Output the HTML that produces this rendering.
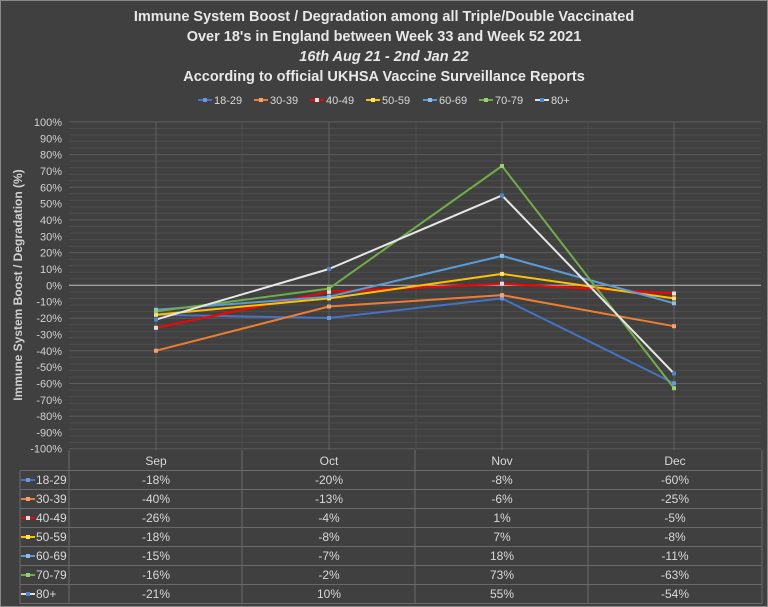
<!DOCTYPE html>
<html><head><meta charset="utf-8"><style>
html,body{margin:0;padding:0;background:#404040;}
svg{display:block;font-family:"Liberation Sans",Calibri,sans-serif;}
</style></head><body>
<svg width="768" height="607" viewBox="0 0 768 607" xmlns="http://www.w3.org/2000/svg">
<rect x="0" y="0" width="768" height="607" fill="#404040"/>
<rect x="0.5" y="0.5" width="767" height="606" fill="none" stroke="#8a8a8a"/>
<g fill="#e8e8e8" font-weight="bold" font-size="14.5" text-anchor="middle">
<text x="384" y="21">Immune System Boost / Degradation among all Triple/Double Vaccinated</text>
<text x="384" y="41">Over 18's in England between Week 33 and Week 52 2021</text>
<text x="384" y="61" font-style="italic">16th Aug 21 - 2nd Jan 22</text>
<text x="384" y="81">According to official UKHSA Vaccine Surveillance Reports</text>
</g>
<g font-size="11" fill="#d9d9d9">
<g transform="translate(198,100)"><line x1="0" y1="0" x2="14" y2="0" stroke="#4472c4" stroke-width="2"/><rect x="5" y="-2" width="4" height="4" fill="#6a95e0"/><text x="16" y="4">18-29</text></g>
<g transform="translate(254,100)"><line x1="0" y1="0" x2="14" y2="0" stroke="#ed7d31" stroke-width="2"/><rect x="5" y="-2" width="4" height="4" fill="#f4a070"/><text x="16" y="4">30-39</text></g>
<g transform="translate(310,100)"><line x1="0" y1="0" x2="14" y2="0" stroke="#ff0000" stroke-width="2"/><rect x="5" y="-2" width="4" height="4" fill="#e0e0e0"/><text x="16" y="4">40-49</text></g>
<g transform="translate(366,100)"><line x1="0" y1="0" x2="14" y2="0" stroke="#ffc000" stroke-width="2"/><rect x="5" y="-2" width="4" height="4" fill="#ffe070"/><text x="16" y="4">50-59</text></g>
<g transform="translate(423,100)"><line x1="0" y1="0" x2="14" y2="0" stroke="#5b9bd5" stroke-width="2"/><rect x="5" y="-2" width="4" height="4" fill="#8fbde8"/><text x="16" y="4">60-69</text></g>
<g transform="translate(479,100)"><line x1="0" y1="0" x2="14" y2="0" stroke="#70ad47" stroke-width="2"/><rect x="5" y="-2" width="4" height="4" fill="#98d070"/><text x="16" y="4">70-79</text></g>
<g transform="translate(535,100)"><line x1="0" y1="0" x2="14" y2="0" stroke="#e0e0e0" stroke-width="2"/><rect x="5" y="-2" width="4" height="4" fill="#4a86d0"/><text x="16" y="4">80+</text></g>
</g>
<g id="grid">
<g stroke="#4d4d4d" stroke-width="1">
<path d="M69 128.4H761M69 134.9H761M69 141.4H761M69 148H761M69 161.1H761M69 167.6H761M69 174.2H761M69 180.7H761M69 193.8H761M69 200.4H761M69 206.9H761M69 213.4H761M69 226.5H761M69 233.1H761M69 239.6H761M69 246.2H761M69 259.3H761M69 265.8H761M69 272.3H761M69 278.9H761M69 292H761M69 298.5H761M69 305.1H761M69 311.6H761M69 324.7H761M69 331.2H761M69 337.8H761M69 344.3H761M69 357.4H761M69 364H761M69 370.5H761M69 377H761M69 390.1H761M69 396.7H761M69 403.2H761M69 409.8H761M69 422.9H761M69 429.4H761M69 435.9H761M69 442.5H761"/>
</g>
<g stroke="#5c5c5c" stroke-width="1">
<path d="M69 121.9H761M69 154.6H761M69 187.3H761M69 219.9H761M69 252.6H761M69 318.1H761M69 350.8H761M69 383.5H761M69 416.1H761M69 448.7H761"/>
<path d="M156 121.9V450M329 121.9V450M502 121.9V450M674 121.9V450" stroke="#606060"/>
<path d="M242 121.9V450M416 121.9V450M588 121.9V450" stroke="#4d4d4d"/>
</g>
<line x1="69" y1="285.3" x2="761" y2="285.3" stroke="#bdbdbd" stroke-width="1"/>
</g>
<g font-size="11" fill="#d0d0d0" text-anchor="end">
<text x="60" y="126">100%</text><text x="60" y="158.7">90%</text><text x="60" y="191.4">80%</text><text x="60" y="224">70%</text><text x="60" y="256.7">60%</text><text x="60" y="289.4">50%</text>
<text x="60" y="322" visibility="hidden">x</text>
</g>
<g font-size="11" fill="#d0d0d0" text-anchor="end">
<text x="60" y="289.4" fill="#404040" stroke="#404040" stroke-width="6">50%</text>
</g>
<rect x="25" y="115" width="42" height="340" fill="#404040"/>
<g font-size="11" fill="#d0d0d0" text-anchor="end">
<text x="62" y="126">100%</text><text x="62" y="158.7">90%</text><text x="62" y="191.4">80%</text><text x="62" y="224">70%</text><text x="62" y="256.7">60%</text><text x="62" y="289.4">50%</text>
<text x="62" y="289.4" visibility="hidden">0</text>
</g>
<rect x="25" y="115" width="42" height="340" fill="#404040"/>
<g font-size="11" fill="#d0d0d0" text-anchor="end">
<text x="62" y="126">100%</text><text x="62" y="158.7">90%</text><text x="62" y="191.4">80%</text><text x="62" y="224">70%</text><text x="62" y="256.7">60%</text><text x="62" y="289.4">0%</text>
<text x="62" y="322">-20%</text><text x="62" y="354.8">-40%</text><text x="62" y="387.5">-60%</text><text x="62" y="420.1">-80%</text><text x="62" y="452.7">-100%</text>
</g>
<rect x="25" y="115" width="42" height="340" fill="#404040"/>
<g font-size="11" fill="#d0d0d0" text-anchor="end">
<text x="62" y="126">100%</text><text x="62" y="142.4">90%</text><text x="62" y="158.7">80%</text><text x="62" y="175">70%</text><text x="62" y="191.4">60%</text><text x="62" y="207.7">50%</text><text x="62" y="224">40%</text><text x="62" y="240.4">30%</text><text x="62" y="256.7">20%</text><text x="62" y="273">10%</text><text x="62" y="289.4">0%</text><text x="62" y="305.7">-10%</text><text x="62" y="322">-20%</text><text x="62" y="338.4">-30%</text><text x="62" y="354.8">-40%</text><text x="62" y="371.1">-50%</text><text x="62" y="387.5">-60%</text><text x="62" y="403.8">-70%</text><text x="62" y="420.1">-80%</text><text x="62" y="436.4">-90%</text><text x="62" y="452.7">-100%</text>
</g>
<text transform="translate(22,285) rotate(-90)" font-size="12" font-weight="bold" fill="#d0d0d0" text-anchor="middle">Immune System Boost / Degradation (%)</text>
<g fill="none" stroke-width="2" stroke-linejoin="round">
<polyline stroke="#4472c4" points="156,314.7 329,318 502,298.4 674,383.3"/>
<polyline stroke="#ed7d31" points="156,350.7 329,306.5 502,295.1 674,326.2"/>
<polyline stroke="#ff0000" points="156,327.8 329,291.8 502,283.7 674,293.5"/>
<polyline stroke="#ffc000" points="156,314.7 329,298.4 502,273.9 674,298.4"/>
<polyline stroke="#5b9bd5" points="156,309.8 329,296.7 502,255.9 674,303.3"/>
<polyline stroke="#70ad47" points="156,311.4 329,288.6 502,166 674,388.2"/>
<polyline stroke="#e6e6e6" points="156,319.6 329,269 502,195.4 674,373.5"/>
</g>
<g>
<g fill="#6a95e0"><rect x="154" y="312.7" width="4" height="4"/><rect x="327" y="316" width="4" height="4"/><rect x="500" y="296.4" width="4" height="4"/><rect x="672" y="381.3" width="4" height="4"/></g>
<g fill="#f4a070"><rect x="154" y="348.7" width="4" height="4"/><rect x="327" y="304.5" width="4" height="4"/><rect x="500" y="293.1" width="4" height="4"/><rect x="672" y="324.2" width="4" height="4"/></g>
<g fill="#e0e0e0"><rect x="154" y="325.8" width="4" height="4"/><rect x="327" y="289.8" width="4" height="4"/><rect x="500" y="281.7" width="4" height="4"/><rect x="672" y="291.5" width="4" height="4"/></g>
<g fill="#ffe070"><rect x="154" y="312.7" width="4" height="4"/><rect x="327" y="296.4" width="4" height="4"/><rect x="500" y="271.9" width="4" height="4"/><rect x="672" y="296.4" width="4" height="4"/></g>
<g fill="#8fbde8"><rect x="154" y="307.8" width="4" height="4"/><rect x="327" y="294.7" width="4" height="4"/><rect x="500" y="253.9" width="4" height="4"/><rect x="672" y="301.3" width="4" height="4"/></g>
<g fill="#98d070"><rect x="154" y="309.4" width="4" height="4"/><rect x="327" y="286.6" width="4" height="4"/><rect x="500" y="164" width="4" height="4"/><rect x="672" y="386.2" width="4" height="4"/></g>
<g fill="#4a86d0"><rect x="154" y="317.6" width="4" height="4"/><rect x="327" y="267" width="4" height="4"/><rect x="500" y="193.4" width="4" height="4"/><rect x="672" y="371.5" width="4" height="4"/></g>
</g>
<g stroke="#6a6a6a" stroke-width="1" fill="none">
<path d="M69 450V604M242 450V604M415 450V604M588 450V604M762 450V604"/>
<path d="M20 470.5H762M20 489.5H762M20 508.5H762M20 527.5H762M20 546.5H762M20 565.5H762M20 584.5H762M20 603.5H762M20 470.5V604"/>
</g>
<g font-size="12" fill="#d9d9d9" text-anchor="middle">
<text x="156" y="465">Sep</text><text x="329" y="465">Oct</text><text x="502" y="465">Nov</text><text x="675" y="465">Dec</text>
</g>
<g font-size="12" fill="#d9d9d9">
<g transform="translate(21,480)"><line x1="0" y1="0" x2="14" y2="0" stroke="#4472c4" stroke-width="2"/><rect x="5" y="-2" width="4" height="4" fill="#6a95e0"/><text x="15" y="4">18-29</text></g>
<g transform="translate(21,499)"><line x1="0" y1="0" x2="14" y2="0" stroke="#ed7d31" stroke-width="2"/><rect x="5" y="-2" width="4" height="4" fill="#f4a070"/><text x="15" y="4">30-39</text></g>
<g transform="translate(21,518)"><line x1="0" y1="0" x2="14" y2="0" stroke="#ff0000" stroke-width="2"/><rect x="5" y="-2" width="4" height="4" fill="#e0e0e0"/><text x="15" y="4">40-49</text></g>
<g transform="translate(21,537)"><line x1="0" y1="0" x2="14" y2="0" stroke="#ffc000" stroke-width="2"/><rect x="5" y="-2" width="4" height="4" fill="#ffe070"/><text x="15" y="4">50-59</text></g>
<g transform="translate(21,556)"><line x1="0" y1="0" x2="14" y2="0" stroke="#5b9bd5" stroke-width="2"/><rect x="5" y="-2" width="4" height="4" fill="#8fbde8"/><text x="15" y="4">60-69</text></g>
<g transform="translate(21,575)"><line x1="0" y1="0" x2="14" y2="0" stroke="#70ad47" stroke-width="2"/><rect x="5" y="-2" width="4" height="4" fill="#98d070"/><text x="15" y="4">70-79</text></g>
<g transform="translate(21,594)"><line x1="0" y1="0" x2="14" y2="0" stroke="#e0e0e0" stroke-width="2"/><rect x="5" y="-2" width="4" height="4" fill="#4a86d0"/><text x="15" y="4">80+</text></g>
</g>
<g font-size="12" fill="#d9d9d9" text-anchor="middle">
<text x="156" y="484">-18%</text><text x="329" y="484">-20%</text><text x="502" y="484">-8%</text><text x="675" y="484">-60%</text>
<text x="156" y="503">-40%</text><text x="329" y="503">-13%</text><text x="502" y="503">-6%</text><text x="675" y="503">-25%</text>
<text x="156" y="522">-26%</text><text x="329" y="522">-4%</text><text x="502" y="522">1%</text><text x="675" y="522">-5%</text>
<text x="156" y="541">-18%</text><text x="329" y="541">-8%</text><text x="502" y="541">7%</text><text x="675" y="541">-8%</text>
<text x="156" y="560">-15%</text><text x="329" y="560">-7%</text><text x="502" y="560">18%</text><text x="675" y="560">-11%</text>
<text x="156" y="579">-16%</text><text x="329" y="579">-2%</text><text x="502" y="579">73%</text><text x="675" y="579">-63%</text>
<text x="156" y="598">-21%</text><text x="329" y="598">10%</text><text x="502" y="598">55%</text><text x="675" y="598">-54%</text>
</g>
</svg>
</body></html>
